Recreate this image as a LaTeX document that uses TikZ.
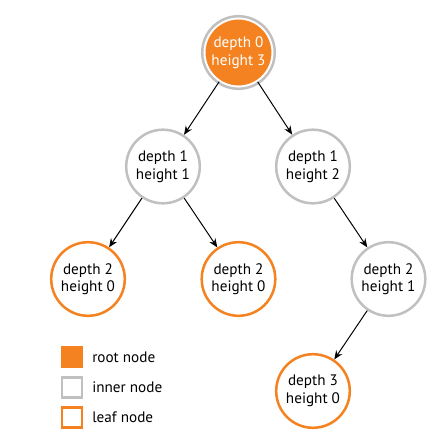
\documentclass[tikz,border=0pt]{standalone}
\usepackage{fontspec}
\setmainfont{PT Sans}
\usepackage{tikz}
\usetikzlibrary{arrows.meta}

\definecolor{treeorange}{RGB}{245,130,32}
\definecolor{ringgray}{RGB}{192,192,192}

\tikzset{
  rootnode/.style={circle, fill=treeorange, draw=white, line width=0.05cm,
    minimum size=1.7cm, inner sep=0pt, align=center, text=white},
  rootring/.style={draw=ringgray, line width=0.0625cm},
  innernode/.style={circle, draw=ringgray, fill=white, line width=0.0625cm,
    minimum size=1.84cm, inner sep=0pt, align=center},
  leafnode/.style={innernode, draw=treeorange},
  edge/.style={-{Stealth[length=2.2mm, width=1.8mm]}, line width=0.7pt},
  rootkey/.style={rectangle, fill=treeorange, minimum size=0.55cm, inner sep=0pt},
  innerkey/.style={rectangle, draw=ringgray, line width=0.0625cm,
    minimum size=0.49cm, inner sep=0pt},
  leafkey/.style={innerkey, draw=treeorange},
  keytext/.style={anchor=west, inner sep=0pt}
}

\begin{document}
\begin{tikzpicture}[x=0.025cm, y=-0.025cm,
    every node/.style={font=\fontsize{10.8}{12.4}\selectfont}]
  \useasboundingbox (0,0) rectangle (439,443);
  % tree
  \node[rootnode] (n0) at (238.5,52.5) {depth 0\\height 3};
  \draw[rootring] (n0.center) circle (0.907cm);
  \node[innernode] (n1l) at (163,166.5) {depth 1\\height 1};
  \node[innernode] (n1r) at (313,166.5) {depth 1\\height 2};
  \node[leafnode] (n2l) at (88,279) {depth 2\\height 0};
  \node[leafnode] (n2m) at (238.5,279) {depth 2\\height 0};
  \node[innernode] (n2r) at (388.5,279) {depth 2\\height 1};
  \node[leafnode] (n3) at (313,391) {depth 3\\height 0};
  % edges
  \draw[edge] (n0) -- (n1l);
  \draw[edge] (n0) -- (n1r);
  \draw[edge] (n1l) -- (n2l);
  \draw[edge] (n1l) -- (n2m);
  \draw[edge] (n1r) -- (n2r);
  \draw[edge] (n2r) -- (n3);
  % legend
  \node[rootkey] (keyroot) at (72,357) {};
  \node[innerkey] (keyinner) at (72,387.5) {};
  \node[leafkey] (keyleaf) at (72,417.5) {};
  \node[keytext] (txtroot) at (92,357) {root node};
  \node[keytext] (txtinner) at (92,387.5) {inner node};
  \node[keytext] (txtleaf) at (92,417.5) {leaf node};
\end{tikzpicture}
\end{document}
